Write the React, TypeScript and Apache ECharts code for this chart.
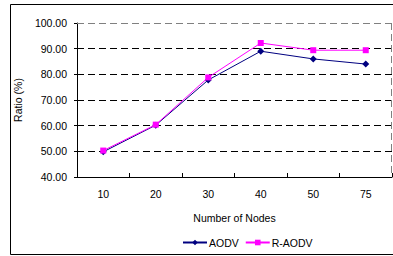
import React, { useEffect, useRef } from "react";
import * as echarts from "echarts";

const categories = ["10", "20", "30", "40", "50", "75"];
const aodv = [49.8, 60.2, 77.8, 89.0, 86.0, 84.0];
const raodv = [50.3, 60.4, 78.8, 92.2, 89.4, 89.4];

export default function App() {
  const ref = useRef<HTMLDivElement>(null);
  useEffect(() => {
    const chart = echarts.init(ref.current!, null, { renderer: "svg" });
    const font = "Liberation Sans, Arial, sans-serif";
    chart.setOption({
      animation: false,
      backgroundColor: "#ffffff",
      textStyle: { fontFamily: font },
      grid: { left: 77, right: 1, top: 23, bottom: 79, containLabel: false },
      graphic: [
        {
          type: "rect",
          shape: { x: 10.5, y: 4.5, width: 390, height: 250 },
          style: { fill: "none", stroke: "#000", lineWidth: 1 },
          silent: true,
          z: -1,
        },
        {
          type: "line",
          shape: { x1: 77, y1: 23.5, x2: 392, y2: 23.5 },
          style: { stroke: "#808080", lineWidth: 1, lineDash: [7, 4] },
          z: 1,
        },
        {
          type: "line",
          shape: { x1: 391.5, y1: 23, x2: 391.5, y2: 177 },
          style: { stroke: "#808080", lineWidth: 1, lineDash: [7, 4] },
          z: 1,
        },
      ],
      legend: {
        data: ["AODV", "R-AODV"],
        left: 177,
        top: 232,
        itemWidth: 24,
        itemHeight: 7,
        itemGap: 6,
        textStyle: { fontSize: 10.5, color: "#000", fontFamily: font, padding: [0, 0, 0, -3] },
      },
      xAxis: {
        type: "category",
        data: categories,
        boundaryGap: true,
        name: "Number of Nodes",
        nameLocation: "middle",
        nameGap: 35,
        nameTextStyle: { fontSize: 10.5, color: "#000", fontFamily: font },
        axisLine: { lineStyle: { color: "#000", width: 1 } },
        axisTick: { show: true, inside: true, length: 4, lineStyle: { color: "#000" } },
        axisLabel: { fontSize: 10.5, color: "#000", margin: 11, fontFamily: font },
        splitLine: { show: false },
      },
      yAxis: {
        type: "value",
        min: 40,
        max: 100,
        interval: 10,
        name: "Ratio (%)",
        nameLocation: "middle",
        nameGap: 50,
        nameRotate: 90,
        nameTextStyle: { fontSize: 10.5, color: "#000", fontFamily: font },
        axisLine: { show: true, lineStyle: { color: "#000", width: 1 } },
        axisTick: { show: true, length: 3, lineStyle: { color: "#000" } },
        axisLabel: {
          fontSize: 10.5,
          color: "#000",
          margin: 10,
          fontFamily: font,
          formatter: (v: number) => v.toFixed(2),
        },
        splitLine: {
          show: true,
          lineStyle: { color: "#000", type: [7, 4], width: 1 },
        },
      },
      series: [
        {
          name: "AODV",
          type: "line",
          data: aodv,
          symbol: "diamond",
          symbolSize: 7,
          itemStyle: { color: "#000080" },
          lineStyle: { color: "#000080", width: 1 },
          z: 3,
        },
        {
          name: "R-AODV",
          type: "line",
          data: raodv,
          symbol: "rect",
          symbolSize: 6,
          itemStyle: { color: "#ff00ff" },
          lineStyle: { color: "#ff00ff", width: 1 },
          z: 4,
        },
      ],
    });
    return () => chart.dispose();
  }, []);
  return (
    <div
      ref={ref}
      style={{ position: "fixed", left: 0, top: 0, width: 393, height: 256 }}
    />
  );
}
